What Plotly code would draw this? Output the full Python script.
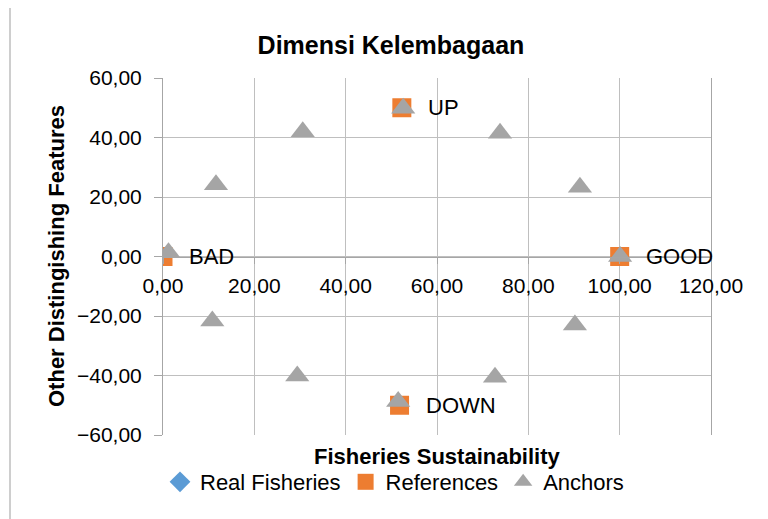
import plotly.graph_objects as go

# Data
real_x = [None]
real_y = [None]

ref_x = [0.0, 100.0, 52.3, 51.8]
ref_y = [0.0, 0.0, 50.0, -50.0]
ref_labels = ["BAD", "GOOD", "UP", "DOWN"]

anchor_x = [1.2, 11.6, 30.6, 52.6, 73.8, 91.3, 100.1, 90.2, 72.7, 51.5, 29.4, 10.8]
anchor_y = [1.3, 24.1, 41.9, 49.8, 41.4, 23.3, 0.0, -23.0, -40.6, -48.7, -40.2, -21.7]

x_ticks = [0, 20, 40, 60, 80, 100, 120]
y_ticks = [-60, -40, -20, 0, 20, 40, 60]

FONT = "Liberation Sans, Arial, sans-serif"
GRID = "#BFBFBF"
AXIS = "#A6A6A6"

# page offset (body margin) compensation
OFF = 8
W, H = 768 - OFF, 519 - OFF
L, T = 163 - OFF, 78 - OFF
PW, PH = 548, 357
R = W - L - PW
B = H - T - PH


def px_x(p):
    return (p - OFF - L) / PW


def px_y(p):
    return (T + PH - (p - OFF)) / PH


fig = go.Figure()
fig.add_trace(go.Scatter(
    x=real_x, y=real_y, mode="markers", name="Real Fisheries",
    marker=dict(symbol="diamond", size=16, color="#5B9BD5"),
))
fig.add_trace(go.Scatter(
    x=ref_x, y=ref_y, mode="markers", name="References",
    marker=dict(symbol="square", size=19, color="#ED7D31"),
))
fig.add_trace(go.Scatter(
    x=anchor_x, y=anchor_y, mode="markers", name="Anchors",
    marker=dict(symbol="triangle-up", size=21, color="#A5A5A5"),
))

annotations = [
    dict(text=lab, x=xv, y=yv, xref="x", yref="y", xanchor="left", yanchor="middle",
         xshift=24, showarrow=False, font=dict(family=FONT, size=22, color="#000000"))
    for lab, xv, yv in zip(ref_labels, ref_x, ref_y)
]
annotations += [
    dict(text="<b>Fisheries Sustainability</b>", x=px_x(437), y=px_y(456),
         xref="paper", yref="paper", xanchor="center", yanchor="middle",
         showarrow=False, font=dict(family=FONT, size=22, color="#000000")),
    dict(text="<b>Other Distingishing Features</b>", x=px_x(56), y=px_y(256),
         xref="paper", yref="paper", xanchor="center", yanchor="middle",
         textangle=-90, showarrow=False,
         font=dict(family=FONT, size=22, color="#000000")),
]

fig.update_layout(
    width=W, height=H,
    margin=dict(l=L, r=R, t=T, b=B),
    paper_bgcolor="white", plot_bgcolor="white",
    separators=",.",
    font=dict(family=FONT, size=21, color="#000000"),
    title=dict(text="<b>Dimensi Kelembagaan</b>", x=(391 - OFF) / W, xanchor="center",
               y=1 - (45 - OFF) / H, yanchor="middle", xref="container", yref="container",
               font=dict(family=FONT, size=25, color="#000000")),
    showlegend=True,
    legend=dict(orientation="h", x=px_x(160), xanchor="left",
                y=px_y(482), yanchor="middle",
                font=dict(family=FONT, size=22, color="#000000"),
                bgcolor="rgba(0,0,0,0)", itemwidth=30),
    xaxis=dict(range=[0, 120], tickvals=x_ticks, tickformat=".2f",
               showgrid=True, gridcolor=GRID, gridwidth=1, zeroline=False,
               showline=True, linecolor=AXIS, linewidth=1,
               ticks="outside", ticklen=6, tickcolor=AXIS,
               anchor="free", position=0.5, ticklabelstandoff=4,
               tickfont=dict(family=FONT, size=21, color="#000000")),
    yaxis=dict(range=[-60, 60], tickvals=y_ticks, tickformat=".2f",
               showgrid=True, gridcolor=GRID, gridwidth=1, zeroline=False,
               showline=True, linecolor=AXIS, linewidth=1, mirror=True,
               ticks="outside", ticklen=8, tickcolor=AXIS, ticklabelstandoff=8,
               tickfont=dict(family=FONT, size=21, color="#000000")),
    annotations=annotations,
    shapes=[
        dict(type="rect", xref="paper", yref="paper",
             x0=px_x(10), x1=px_x(800),
             y0=px_y(560), y1=px_y(3),
             line=dict(color="#BFBFBF", width=1.5), layer="below"),
    ],
)

fig.write_html("out.html")
